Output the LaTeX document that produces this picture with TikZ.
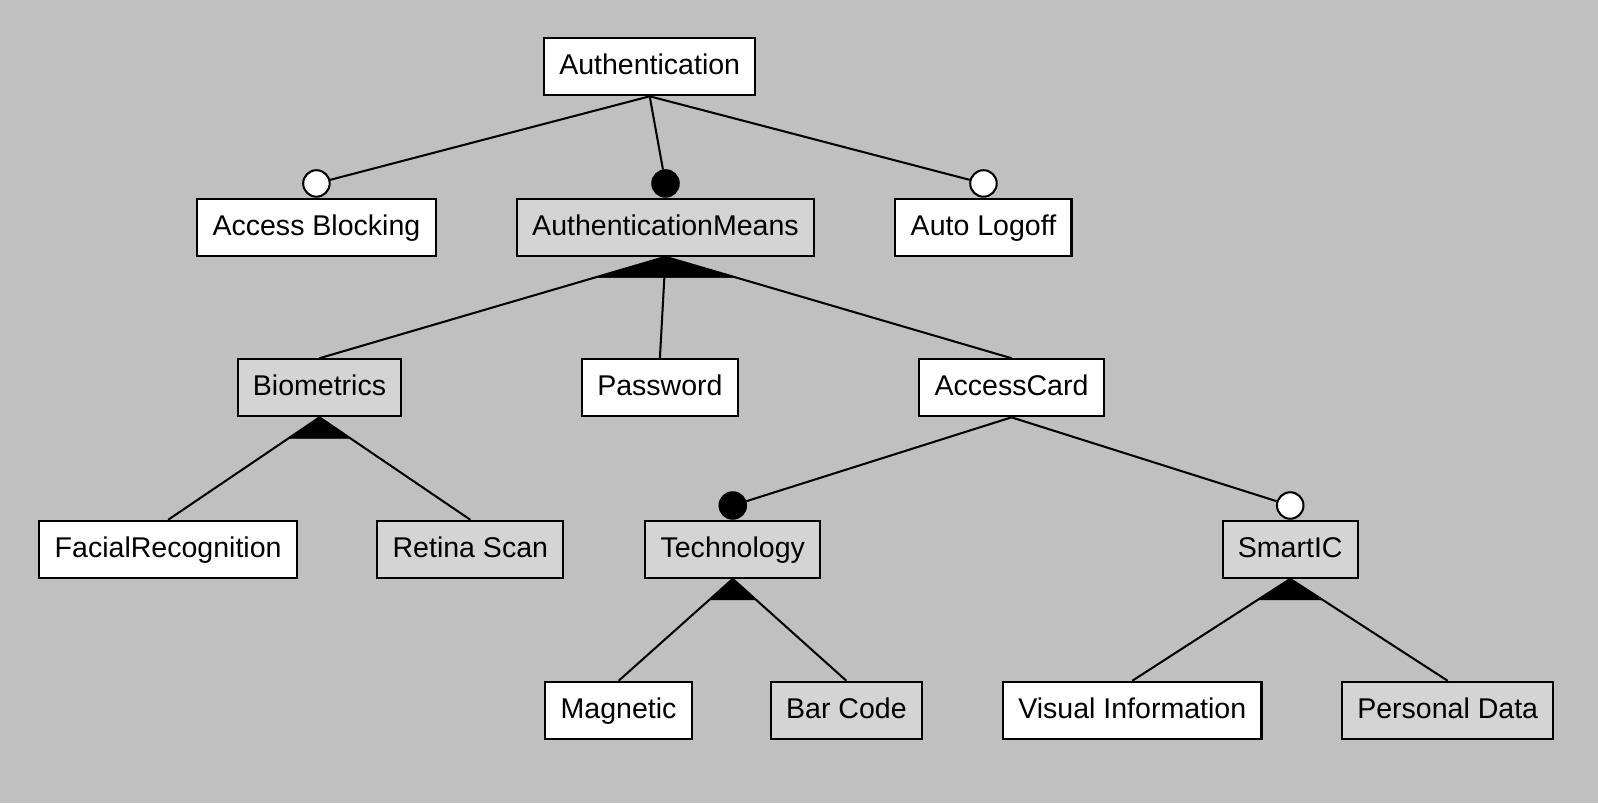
\documentclass[tikz,border=0pt]{standalone}
\usepackage{fontspec}
\setmainfont{Liberation Sans}
\usepackage{tikz}
\usetikzlibrary{calc}
\definecolor{canvas}{RGB}{192,192,192}
\definecolor{abstractfill}{RGB}{212,212,212}

\begin{document}
\begin{tikzpicture}[x=1pt, y=-1pt, line width=2pt,
  every node/.style={font=\fontsize{28}{34}\selectfont},
  feature/.style={draw, rectangle, fill=white, minimum height=56pt, inner xsep=15pt,
    text height=20pt, text depth=4pt},
  abstract/.style={feature, fill=abstractfill},
  mandatory/.style={draw, circle, fill=black, minimum size=26pt, inner sep=0pt, anchor=south},
  optional/.style={mandatory, fill=white},
  group/.style={fill=black, line width=0.5pt}]
  \fill[canvas] (0,0) rectangle (1568,788);
  \useasboundingbox (0,0) rectangle (1568,788);

  % features
  \node[feature] (Auth) at (637.5,65.5) {Authentication};
  \node[feature] (Blocking) at (310.5,223) {Access Blocking};
  \node[abstract] (Means) at (653,223) {AuthenticationMeans};
  \node[feature] (Logoff) at (965,223) {Auto Logoff};
  \node[abstract] (Bio) at (313.5,380.5) {Biometrics};
  \node[feature] (Pass) at (647.5,380.5) {Password};
  \node[feature] (Card) at (992.5,380.5) {AccessCard};
  \node[feature] (Face) at (165,539) {FacialRecognition};
  \node[abstract] (Retina) at (461.5,539) {Retina Scan};
  \node[abstract] (Tech) at (719,539) {Technology};
  \node[abstract] (Smart) at (1266,539) {SmartIC};
  \node[feature] (Mag) at (607,697) {Magnetic};
  \node[abstract] (Bar) at (830.5,697) {Bar Code};
  \node[feature] (Visual) at (1111,697) {Visual Information};
  \node[abstract] (Personal) at (1420.5,697) {Personal Data};

  % mandatory / optional marks
  \node[optional] (BlockingMark) at (Blocking.north) {};
  \node[mandatory] (MeansMark) at (Means.north) {};
  \node[optional] (LogoffMark) at (Logoff.north) {};
  \node[mandatory] (TechMark) at (Tech.north) {};
  \node[optional] (SmartMark) at (Smart.north) {};

  \draw (Auth.south) -- (BlockingMark);
  \draw (Auth.south) -- (MeansMark);
  \draw (Auth.south) -- (LogoffMark);
  \draw (Card.south) -- (TechMark);
  \draw (Card.south) -- (SmartMark);

  % or-groups
  \draw (Means.south) -- (Bio.north);
  \draw (Means.south) -- (Pass.north);
  \draw (Means.south) -- (Card.north);
  \filldraw[group] (Means.south) -- ($(Means.south)!0.205!(Bio.north)$) -- ($(Means.south)!0.205!(Card.north)$) -- cycle;

  \draw (Bio.south) -- (Face.north);
  \draw (Bio.south) -- (Retina.north);
  \filldraw[group] (Bio.south) -- ($(Bio.south)!0.205!(Face.north)$) -- ($(Bio.south)!0.205!(Retina.north)$) -- cycle;

  \draw (Tech.south) -- (Mag.north);
  \draw (Tech.south) -- (Bar.north);
  \filldraw[group] (Tech.south) -- ($(Tech.south)!0.205!(Mag.north)$) -- ($(Tech.south)!0.205!(Bar.north)$) -- cycle;

  \draw (Smart.south) -- (Visual.north);
  \draw (Smart.south) -- (Personal.north);
  \filldraw[group] (Smart.south) -- ($(Smart.south)!0.205!(Visual.north)$) -- ($(Smart.south)!0.205!(Personal.north)$) -- cycle;
\end{tikzpicture}
\end{document}
